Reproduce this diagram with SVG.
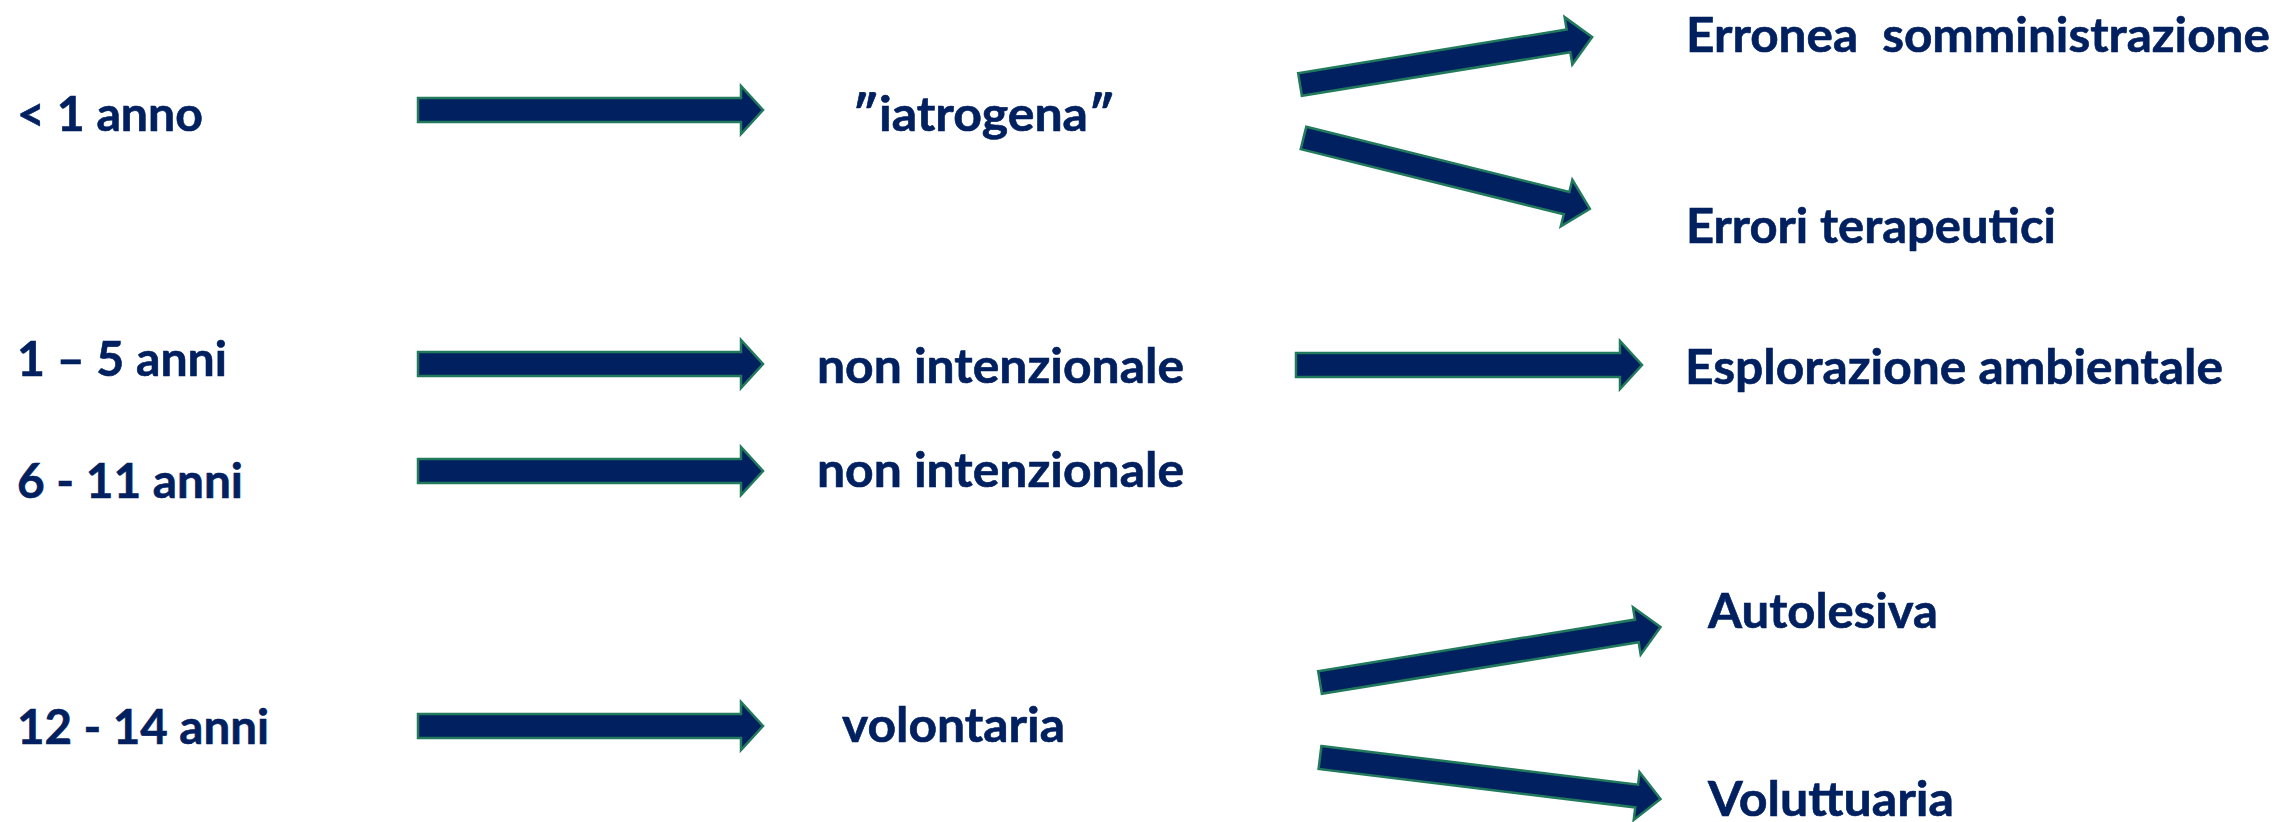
<svg xmlns="http://www.w3.org/2000/svg" width="2282" height="822" viewBox="0 0 2282 822">
<style>
.t{font-family:Lato,"Open Sans","Liberation Sans",sans-serif;font-weight:700;font-size:48px;fill:#002060;white-space:pre;stroke:#002060;stroke-width:0.6}
.a{fill:#002060;stroke:#227a5c;stroke-width:2.5;stroke-linejoin:miter}
</style>
<rect width="2282" height="822" fill="#ffffff"/>
<g id="n-lt1"><text class="t" x="17" y="131" textLength="186" lengthAdjust="spacingAndGlyphs">&lt; 1 anno</text></g>
<g id="n-1-5"><text class="t" x="17" y="376" textLength="210" lengthAdjust="spacingAndGlyphs">1 – 5 anni</text></g>
<g id="n-6-11"><text class="t" x="17" y="498" textLength="226" lengthAdjust="spacingAndGlyphs">6 - 11 anni</text></g>
<g id="n-12-14"><text class="t" x="17" y="744" textLength="252" lengthAdjust="spacingAndGlyphs">12 - 14 anni</text></g>
<g id="n-iatrogena"><text class="t" x="852" y="131" textLength="263" lengthAdjust="spacingAndGlyphs">″iatrogena″</text></g>
<g id="n-nonint1"><text class="t" x="817" y="383" textLength="367" lengthAdjust="spacingAndGlyphs">non intenzionale</text></g>
<g id="n-nonint2"><text class="t" x="817" y="487" textLength="367" lengthAdjust="spacingAndGlyphs">non intenzionale</text></g>
<g id="n-volontaria"><text class="t" x="842" y="742" textLength="223" lengthAdjust="spacingAndGlyphs">volontaria</text></g>
<g id="n-erronea"><text class="t" x="1686" y="52" textLength="584" lengthAdjust="spacingAndGlyphs">Erronea  somministrazione</text></g>
<g id="n-errori"><text class="t" x="1686" y="243" textLength="370" lengthAdjust="spacingAndGlyphs">Errori terapeutici</text></g>
<g id="n-esplorazione"><text class="t" x="1685" y="384" textLength="538" lengthAdjust="spacingAndGlyphs">Esplorazione ambientale</text></g>
<g id="n-autolesiva"><text class="t" x="1708" y="628" textLength="230" lengthAdjust="spacingAndGlyphs">Autolesiva</text></g>
<g id="n-voluttuaria"><text class="t" x="1708" y="816" textLength="246" lengthAdjust="spacingAndGlyphs">Voluttuaria</text></g>
<g id="connectors">
<path class="a" transform="translate(418,110)" d="M0,-12 H323 V-24 L345,0 L323,24 V12 H0 Z"/>
<path class="a" transform="translate(418,364)" d="M0,-12 H323 V-24 L345,0 L323,24 V12 H0 Z"/>
<path class="a" transform="translate(418,471)" d="M0,-12 H323 V-24 L345,0 L323,24 V12 H0 Z"/>
<path class="a" transform="translate(418,726)" d="M0,-12 H323 V-24 L345,0 L323,24 V12 H0 Z"/>
<path class="a" transform="translate(1296,365)" d="M0,-12 H324 V-24 L346,0 L324,24 V12 H0 Z"/>
<path class="a" transform="translate(1300,84.5) rotate(-9.24)" d="M0,-11.5 H272 V-24 L296,0 L272,24 V11.5 H0 Z"/>
<path class="a" transform="translate(1303.5,138) rotate(13.9)" d="M0,-11.5 H271 V-24 L295,0 L271,24 V11.5 H0 Z"/>
<path class="a" transform="translate(1320,682.5) rotate(-9.24)" d="M0,-11.5 H321 V-24 L345,0 L321,24 V11.5 H0 Z"/>
<path class="a" transform="translate(1320,757.5) rotate(6.94)" d="M0,-11.5 H319 V-24 L343,0 L319,24 V11.5 H0 Z"/>
</g>
</svg>
